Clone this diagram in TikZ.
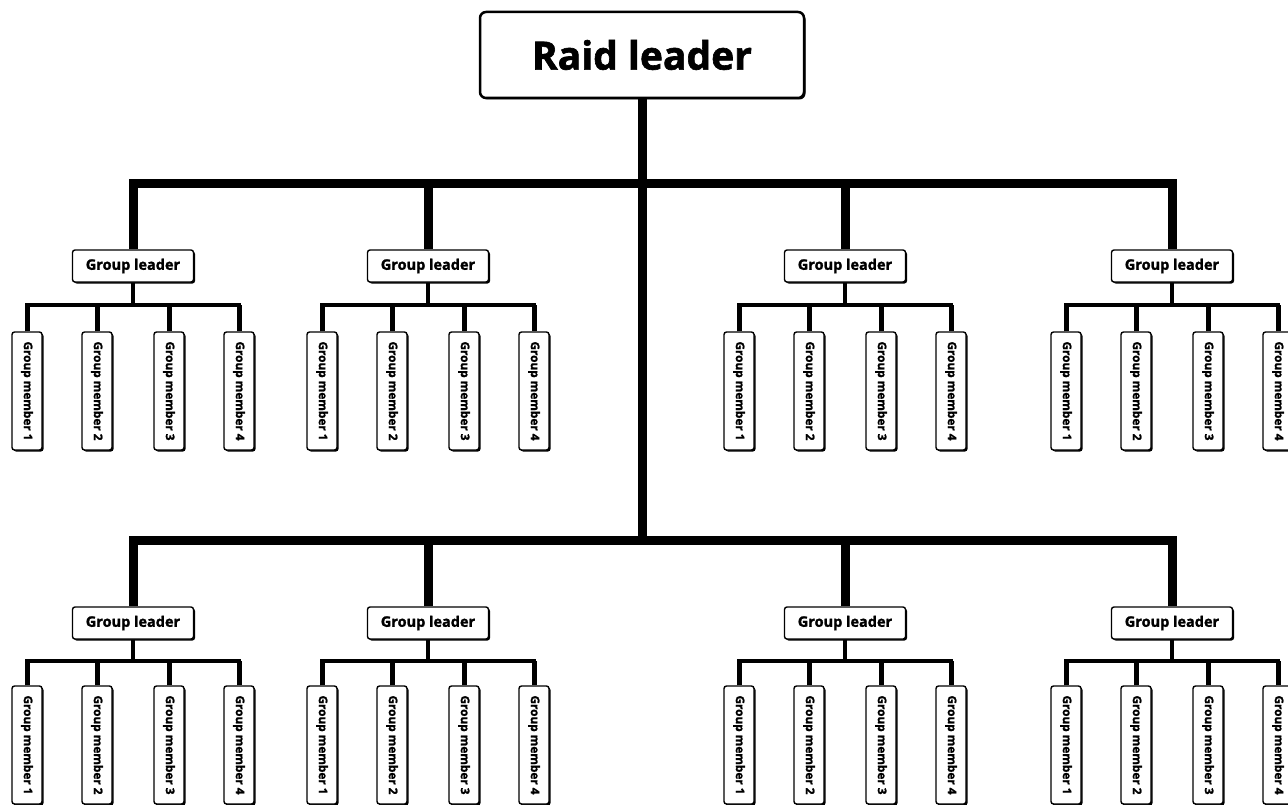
\documentclass[tikz,border=0pt]{standalone}
\usepackage{fontspec}
\setmainfont{Open Sans}[BoldFeatures={FakeBold=1.6}]
\usetikzlibrary{shadows}
\begin{document}
\begin{tikzpicture}[x=1pt,y=-1pt,
  boxshadow/.style={drop shadow={shadow xshift=1.5pt,shadow yshift=-1.5pt,fill=black,opacity=1}},
  raidbox/.style={draw,fill=white,line width=2.5pt,rounded corners=6pt,boxshadow,
    minimum width=324pt,minimum height=86pt,inner sep=0pt,
    font=\fontsize{39}{44}\selectfont\bfseries},
  leaderbox/.style={draw,fill=white,line width=1.4pt,rounded corners=2.5pt,boxshadow,
    minimum width=121pt,minimum height=32pt,inner sep=0pt,
    font=\fontsize{14.5}{16}\selectfont\bfseries},
  memberbox/.style={draw,fill=white,line width=1.4pt,rounded corners=2.5pt,boxshadow,
    minimum width=30pt,minimum height=118pt,inner sep=0pt,
    font=\fontsize{11.8}{13}\selectfont\bfseries},
  trunk/.style={line width=9pt,line join=miter},
  branch/.style={line width=3.5pt},
  twig/.style={line width=4pt,line join=miter},
  leg/.style={line width=5pt}]
\useasboundingbox (0,0) rectangle (1288,805);

% top of the hierarchy
\node[raidbox] (raid) at (642,55) {Raid leader};
\coordinate (bar1) at (642,184);
\coordinate (bar2) at (642,540);

% eight groups: leader, member bar and four members each
\foreach \g/\x/\y/\by/\my in {1/133/266/305/391, 2/428/266/305/391, 3/845/266/305/391, 4/1172/266/305/391,
                              5/133/623/661/745, 6/428/623/661/745, 7/845/623/661/745, 8/1172/623/661/745} {
  \node[leaderbox] (g\g) at (\x,\y) {Group leader};
  \coordinate (b\g) at (\x,\by);
  \foreach \k/\dx in {1/-106,2/-36,3/36,4/106}
    \node[memberbox] (m\g\k) at (\x+\dx,\my) {\rotatebox{-90}{Group member \k}};
  \draw[branch] (g\g.south) -- (b\g);
  \draw[twig] (m\g1.north) |- (b\g) -| (m\g4.north);
  \draw[leg] (m\g1.north) -- (m\g1.north |- b\g);
  \draw[leg] (m\g2.north) -- (m\g2.north |- b\g);
  \draw[leg] (m\g3.north) -- (m\g3.north |- b\g);
  \draw[leg] (m\g4.north) -- (m\g4.north |- b\g);
}

% main trunk and the two group bars
\draw[trunk] (raid.south) -- (bar2);
\draw[trunk] (g1.north) |- (bar1) -| (g4.north);
\draw[trunk] (g2.north) -- (g2.north |- bar1);
\draw[trunk] (g3.north) -- (g3.north |- bar1);
\draw[trunk] (g5.north) |- (bar2) -| (g8.north);
\draw[trunk] (g6.north) -- (g6.north |- bar2);
\draw[trunk] (g7.north) -- (g7.north |- bar2);
\end{tikzpicture}
\end{document}
